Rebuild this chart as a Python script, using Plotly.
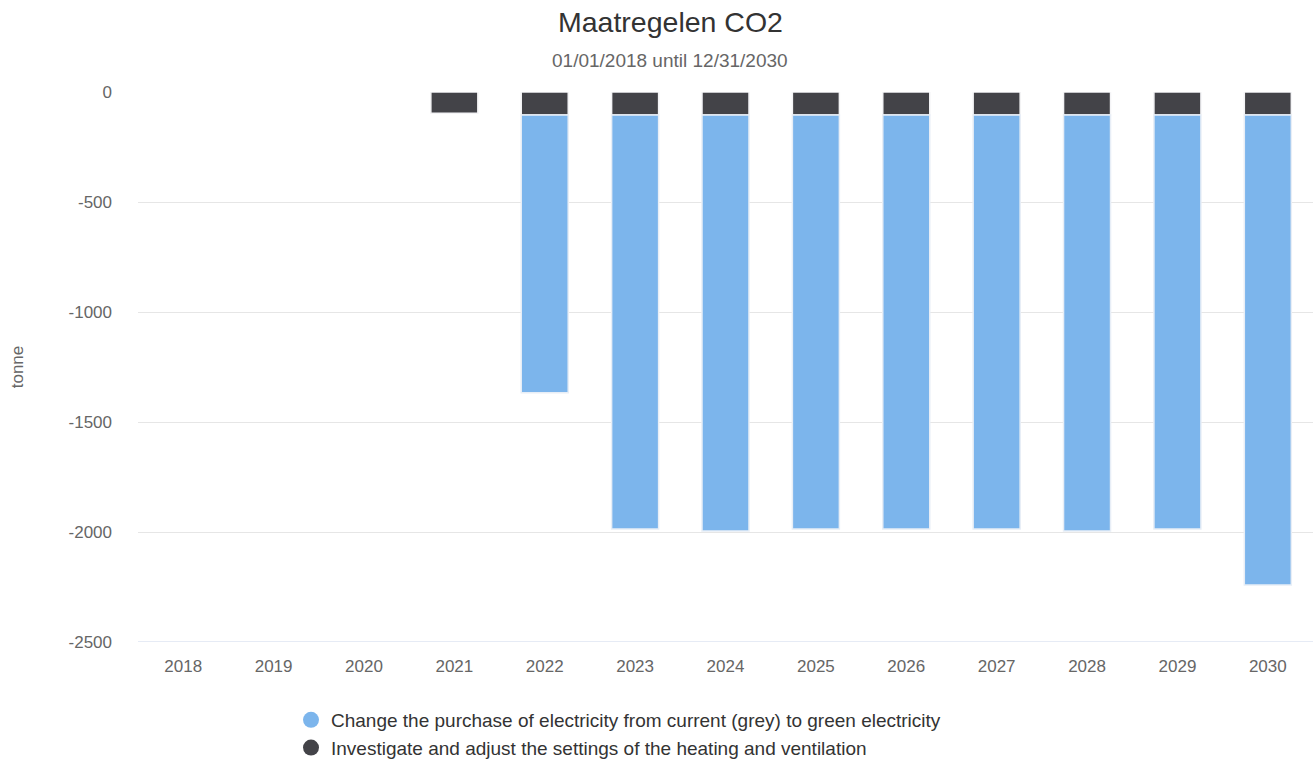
import plotly.graph_objects as go

years = ["2018", "2019", "2020", "2021", "2022", "2023", "2024", "2025", "2026", "2027", "2028", "2029", "2030"]
green_electricity = [0, 0, 0, 0, -1262, -1881, -1890, -1881, -1881, -1881, -1890, -1881, -2136]
heating_ventilation = [0, 0, 0, -97, -105, -105, -105, -105, -105, -105, -105, -105, -105]
y_ticks = [0, -500, -1000, -1500, -2000, -2500]

name_green = "Change the purchase of electricity from current (grey) to green electricity"
name_heat = "Investigate and adjust the settings of the heating and ventilation"
c_blue = "#7cb5ec"
c_dark = "#434348"
font = "Liberation Sans, Arial, sans-serif"

W, H = 1313, 762
ML, MR, MT, MB = 138, 0, 92, 120
plot_h = H - MT - MB
plot_w = W - ML - MR

def py(pix):
    return (H - MB - pix) / plot_h

def px(pix):
    return (pix - ML) / plot_w

def nz(vals):
    # zero-height bars are not drawn (avoid outline slivers)
    return [v if v != 0 else None for v in vals]

fig = go.Figure()
fig.add_trace(go.Bar(x=years, y=nz(heating_ventilation), name=name_heat,
                     marker=dict(color=c_dark, line=dict(color="#f4f4f6", width=1.5)),
                     showlegend=False, width=0.52))
fig.add_trace(go.Bar(x=years, y=nz(green_electricity), name=name_green,
                     marker=dict(color=c_blue, line=dict(color="#e8eef6", width=1.5)),
                     showlegend=False, width=0.52))
# legend entries with circular symbols
fig.add_trace(go.Scatter(x=[None], y=[None], mode="markers", name=name_green,
                         marker=dict(color=c_blue, size=17, symbol="circle")))
fig.add_trace(go.Scatter(x=[None], y=[None], mode="markers", name=name_heat,
                         marker=dict(color=c_dark, size=17, symbol="circle")))

fig.update_layout(
    width=W, height=H,
    margin=dict(l=ML, r=MR, t=MT, b=MB, autoexpand=False),
    barmode="relative",
    plot_bgcolor="#ffffff", paper_bgcolor="#ffffff",
    font=dict(family=font, color="#666666", size=17),
    showlegend=True,
    legend=dict(orientation="v", x=px(291), xanchor="left", y=py(701), yanchor="top",
                font=dict(size=19, color="#333333"), traceorder="normal",
                itemsizing="trace", tracegroupgap=0),
)
fig.add_annotation(text="Maatregelen CO2", x=px(670), xref="paper", y=py(22), yref="paper", showarrow=False,
                   font=dict(size=28.5, color="#333333", family=font), xanchor="center", yanchor="middle")
fig.add_annotation(text="01/01/2018 until 12/31/2030", x=px(670), xref="paper", y=py(60), yref="paper",
                   showarrow=False, font=dict(size=19, color="#666666", family=font),
                   xanchor="center", yanchor="middle")

fig.update_xaxes(type="category", showgrid=False, showline=False, ticks="",
                 tickfont=dict(size=17, color="#666666"), fixedrange=True, ticklabelstandoff=12)
fig.update_yaxes(range=[-2500, 0], tickvals=y_ticks, ticktext=[str(v) for v in y_ticks],
                 showgrid=True, gridcolor="#e6e6e6", gridwidth=1, zeroline=False,
                 tickfont=dict(size=17, color="#666666"), ticklabelstandoff=25,
                 title=dict(text="tonne", font=dict(size=17, color="#666666"), standoff=40))
fig.add_shape(type="line", xref="paper", yref="y", x0=0, x1=1, y0=-2500, y1=-2500,
              line=dict(color="#ccd6eb", width=1))

fig.write_html("out.html", config={"displayModeBar": False},
               post_script="document.body.style.margin='0';")
